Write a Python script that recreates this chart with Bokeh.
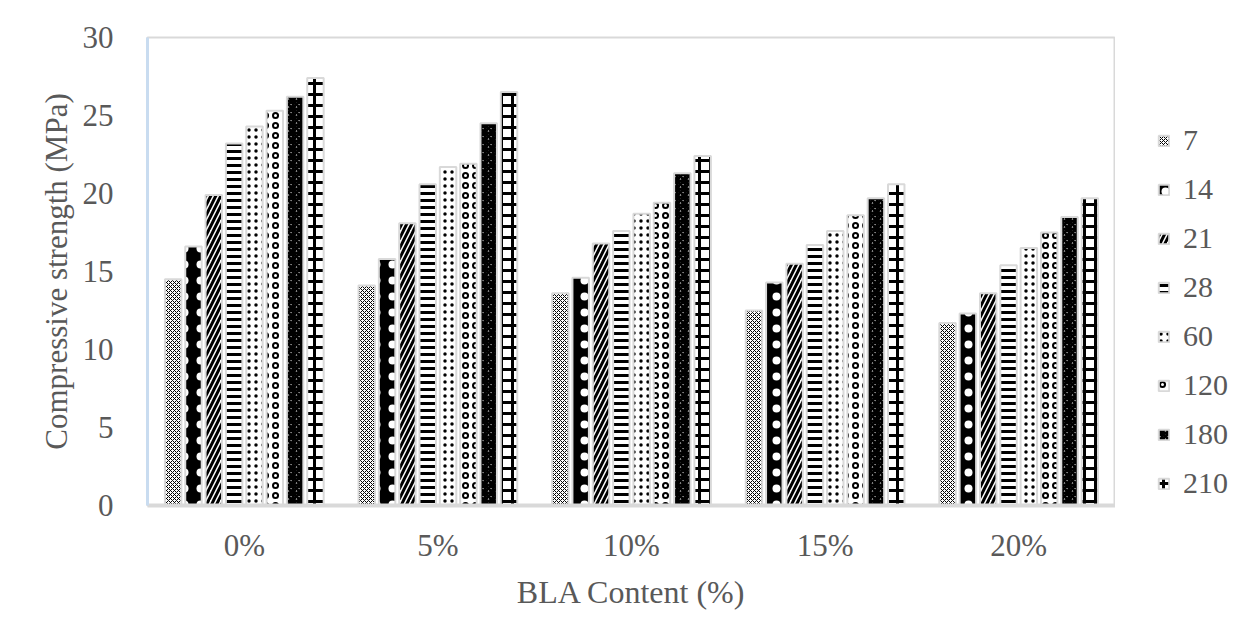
from bokeh.plotting import figure
from bokeh.layouts import row
from bokeh.models import ColumnDataSource, FactorRange, Range1d, Legend, LegendItem, FixedTicker
from bokeh.transform import dodge
from bokeh.embed import file_html
from bokeh.resources import INLINE

categories = ["0%", "5%", "10%", "15%", "20%"]
ages = ["7", "14", "21", "28", "60", "120", "180", "210"]
s7 = [14.5, 14.1, 13.6, 12.5, 11.7]
s14 = [16.6, 15.8, 14.6, 14.3, 12.3]
s21 = [19.9, 18.1, 16.8, 15.5, 13.6]
s28 = [23.2, 20.6, 17.6, 16.7, 15.4]
s60 = [24.3, 21.7, 18.7, 17.6, 16.5]
s120 = [25.3, 21.9, 19.4, 18.6, 17.5]
s180 = [26.2, 24.5, 21.3, 19.7, 18.5]
s210 = [27.4, 26.5, 22.4, 20.6, 19.7]
y_ticks = [0, 5, 10, 15, 20, 25, 30]

series = [s7, s14, s21, s28, s60, s120, s180, s210]
data = {"cat": categories}
for a, s in zip(ages, series):
    data["v" + a] = s
src = ColumnDataSource(data)

FONT = "Liberation Serif"
GREY = "#595959"

xr = FactorRange(*categories, range_padding=0)
yr = Range1d(0, 30)

p = figure(x_range=xr, y_range=yr,
           width=1115, height=634, output_backend="svg", toolbar_location=None,
           min_border_left=147, min_border_right=0, min_border_top=37, min_border_bottom=129)

# legend panel as a separate canvas to the right of the plot
lf = figure(x_range=xr, y_range=yr, width=135, height=634, output_backend="svg",
            toolbar_location=None, x_axis_type=None, y_axis_type=None, min_border=0)
lf.outline_line_color = None
lf.xgrid.grid_line_color = None
lf.ygrid.grid_line_color = None

styles = [
    dict(fill_color="white", hatch_pattern="x", hatch_scale=4, hatch_weight=1, hatch_color="black"),
    dict(fill_color="black", hatch_pattern=".", hatch_scale=16, hatch_weight=1, hatch_color="white"),
    dict(fill_color="white", hatch_pattern="/", hatch_scale=10, hatch_weight=3, hatch_color="black"),
    dict(fill_color="white", hatch_pattern="-", hatch_scale=7, hatch_weight=3, hatch_color="black"),
    dict(fill_color="white", hatch_pattern=".", hatch_scale=7, hatch_weight=4, hatch_color="black"),
    dict(fill_color="white", hatch_pattern="o", hatch_scale=10, hatch_weight=2, hatch_color="black"),
    dict(fill_color="white", hatch_pattern="*", hatch_scale=8, hatch_weight=3, hatch_color="black"),
    dict(fill_color="white", hatch_pattern="+", hatch_scale=11, hatch_weight=3, hatch_color="black"),
]

items = []
for i, a in enumerate(ages):
    off = (i - 3.5) * 0.105
    p.vbar(x=dodge("cat", off, range=xr), top="v" + a, width=0.085, source=src,
           line_color="#d9d9d9", line_width=2, **styles[i])
    lr = lf.vbar(x=dodge("cat", off, range=xr), top="v" + a, width=0.085, source=src,
                 line_color="#d9d9d9", line_width=2, visible=False, **styles[i])
    items.append(LegendItem(label=a, renderers=[lr]))

legend = Legend(items=items, location=(42, 5), orientation="vertical",
                label_text_font=FONT, label_text_font_size="30px", label_text_color=GREY,
                glyph_width=13, glyph_height=13, label_height=24, spacing=15,
                border_line_color=None, background_fill_alpha=0, padding=0, margin=0,
                label_standoff=13, inactive_fill_alpha=0)
lf.add_layout(legend, "center")

p.xgrid.grid_line_color = None
p.ygrid.grid_line_color = None
p.outline_line_color = "#d9d9d9"
p.outline_line_width = 2

p.yaxis.ticker = FixedTicker(ticks=y_ticks)
p.yaxis.axis_line_color = "#c9dcf0"
p.yaxis.axis_line_width = 3
p.yaxis.major_tick_line_color = None
p.yaxis.minor_tick_line_color = None
p.yaxis.major_label_text_font = FONT
p.yaxis.major_label_text_font_size = "31px"
p.yaxis.major_label_text_color = GREY
p.yaxis.major_label_standoff = 28
p.yaxis.axis_label = "Compressive strength (MPa)"
p.yaxis.axis_label_text_font = FONT
p.yaxis.axis_label_text_font_size = "31px"
p.yaxis.axis_label_text_font_style = "normal"
p.yaxis.axis_label_text_color = GREY
p.yaxis.axis_label_standoff = 6

p.xaxis.axis_line_color = "#d9d9d9"
p.xaxis.axis_line_width = 4
p.xaxis.major_tick_line_color = None
p.xaxis.minor_tick_line_color = None
p.xaxis.major_label_text_font = FONT
p.xaxis.major_label_text_font_size = "31px"
p.xaxis.major_label_text_color = GREY
p.xaxis.major_label_standoff = 16
p.xaxis.axis_label = "BLA Content (%)"
p.xaxis.axis_label_text_font = FONT
p.xaxis.axis_label_text_font_size = "32px"
p.xaxis.axis_label_text_font_style = "normal"
p.xaxis.axis_label_text_color = GREY
p.xaxis.axis_label_standoff = 8

layout = row(p, lf, spacing=0)
open("out.html", "w").write(file_html(layout, INLINE))
